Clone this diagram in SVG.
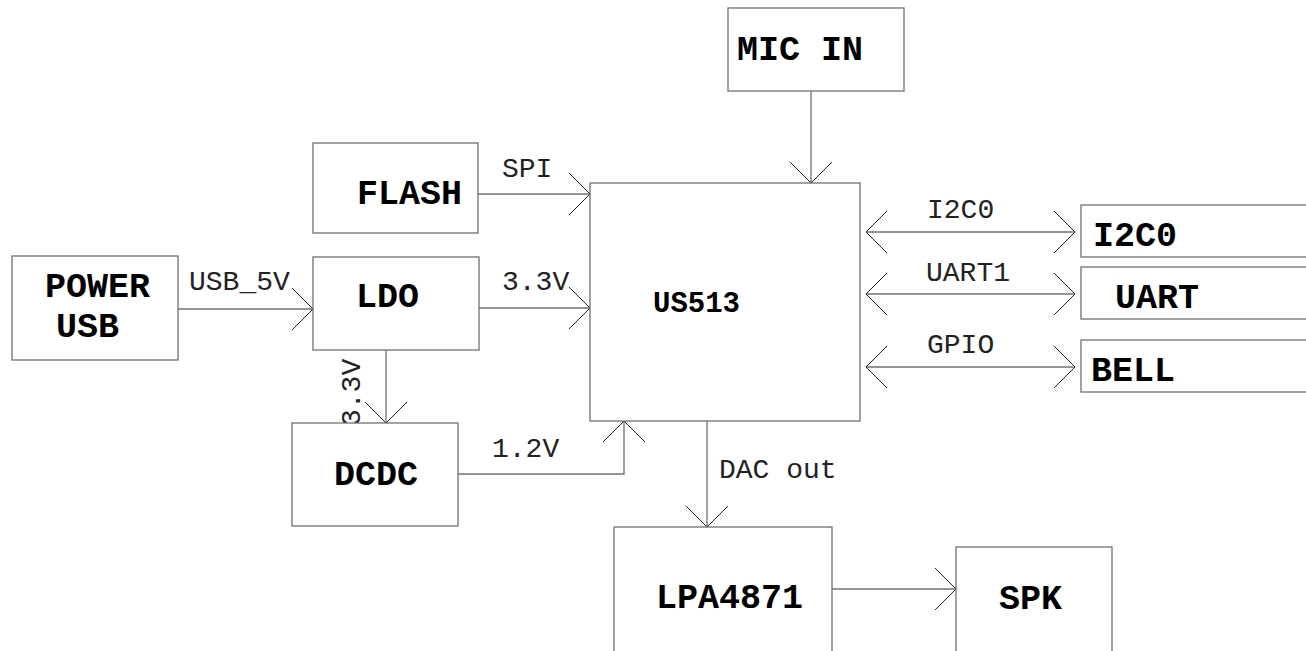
<svg xmlns="http://www.w3.org/2000/svg" width="1306" height="651" viewBox="0 0 1306 651">
<style>
.box{fill:#fff;stroke:#707070;stroke-width:1.3}
.b{font-family:"Liberation Mono","Courier New",monospace;font-weight:bold;font-size:35px;fill:#000}
.m{font-family:"Liberation Mono","Courier New",monospace;font-weight:bold;font-size:29px;fill:#000}
.l{font-family:"Liberation Mono","Courier New",monospace;font-size:28px;fill:#222}
.c{fill:none;stroke:#707070;stroke-width:1.3}
</style>
<defs>
<marker id="ah" markerUnits="userSpaceOnUse" markerWidth="30" markerHeight="50" viewBox="-25 -25 30 50" refX="0" refY="0" orient="auto-start-reverse">
<path d="M-21,-21 L0,0 L-21,21" fill="none" stroke="#222" stroke-width="1"/>
</marker>
</defs>
<rect width="1306" height="651" fill="#fff"/>
<g id="connectors">
<line class="c" x1="811" y1="91" x2="811" y2="183" marker-end="url(#ah)"/>
<line class="c" x1="478" y1="194" x2="590" y2="194" marker-end="url(#ah)"/>
<line class="c" x1="178" y1="309" x2="313" y2="309" marker-end="url(#ah)"/>
<line class="c" x1="479" y1="308" x2="590" y2="308" marker-end="url(#ah)"/>
<line class="c" x1="386" y1="350" x2="386" y2="423" marker-end="url(#ah)"/>
<polyline class="c" points="458,474 624,474 624,421" marker-end="url(#ah)"/>
<line class="c" x1="707" y1="421" x2="707" y2="527" marker-end="url(#ah)"/>
<line class="c" x1="832" y1="589" x2="956" y2="589" marker-end="url(#ah)"/>
<line class="c" x1="866" y1="232" x2="1075" y2="232" marker-start="url(#ah)" marker-end="url(#ah)"/>
<line class="c" x1="866" y1="294" x2="1075" y2="294" marker-start="url(#ah)" marker-end="url(#ah)"/>
<line class="c" x1="866" y1="367" x2="1075" y2="367" marker-start="url(#ah)" marker-end="url(#ah)"/>
<text class="l" x="502" y="177">SPI</text>
<text class="l" x="189" y="290">USB_5V</text>
<text class="l" x="502" y="290">3.3V</text>
<text class="l" transform="translate(360,426) rotate(-90)">3.3V</text>
<text class="l" x="492" y="457">1.2V</text>
<text class="l" x="719" y="478">DAC out</text>
<text class="l" x="927" y="218">I2C0</text>
<text class="l" x="926" y="281">UART1</text>
<text class="l" x="927" y="353">GPIO</text>
</g>
<g id="mic"><rect class="box" x="728" y="8" width="176" height="83"/><text class="b" x="737" y="60">MIC IN</text></g>
<g id="flash"><rect class="box" x="313" y="143" width="165" height="90"/><text class="b" x="357" y="204">FLASH</text></g>
<g id="us513"><rect class="box" x="590" y="183" width="270" height="238"/><text class="m" x="653" y="312">US513</text></g>
<g id="power"><rect class="box" x="12" y="256" width="166" height="104"/><text class="b" x="45" y="297">POWER</text><text class="b" x="56" y="337">USB</text></g>
<g id="ldo"><rect class="box" x="313" y="257" width="166" height="93"/><text class="b" x="356" y="307">LDO</text></g>
<g id="dcdc"><rect class="box" x="292" y="423" width="166" height="103"/><text class="b" x="334" y="485">DCDC</text></g>
<g id="lpa"><rect class="box" x="614" y="527" width="218" height="130"/><text class="b" x="656" y="608">LPA4871</text></g>
<g id="spk"><rect class="box" x="956" y="547" width="156" height="110"/><text class="b" x="999" y="609">SPK</text></g>
<g id="i2c"><rect class="box" x="1081" y="205" width="235" height="52"/><text class="b" x="1093" y="246">I2C0</text></g>
<g id="uart"><rect class="box" x="1081" y="267" width="235" height="52"/><text class="b" x="1115" y="308">UART</text></g>
<g id="bell"><rect class="box" x="1081" y="340" width="235" height="52"/><text class="b" x="1091" y="381">BELL</text></g>
</svg>
